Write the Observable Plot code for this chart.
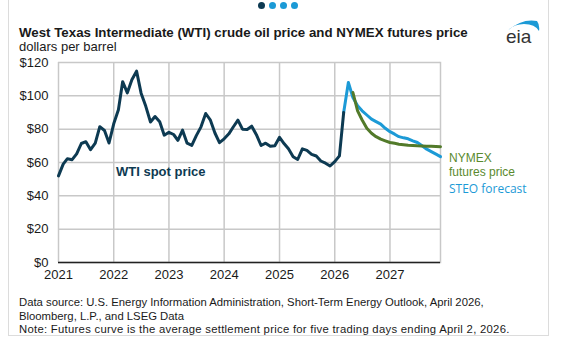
<!DOCTYPE html>
<html><head><meta charset="utf-8">
<script src="https://cdn.jsdelivr.net/npm/d3@7"></script>
<script src="https://cdn.jsdelivr.net/npm/@observablehq/plot@0.6"></script>
<style>
body{margin:0;background:#fff;width:562px;height:362px;overflow:hidden;position:relative;font-family:"Liberation Sans",Arial,sans-serif;color:#1a1a1a;}
.abs{position:absolute;white-space:nowrap;}
.card{position:absolute;left:8px;top:-2px;width:541px;height:338px;border:1px solid #dcdcdc;box-sizing:border-box;}
.dot{position:absolute;top:2px;width:7px;height:7px;border-radius:50%;background:#1c9ad6;}
#chart{position:absolute;left:0;top:0;}
</style>
</head><body>
<div class="card"></div>
<div class="dot" style="left:258px;background:#0d3a52"></div>
<div class="dot" style="left:269px"></div>
<div class="dot" style="left:280px"></div>
<div class="dot" style="left:291px"></div>
<div class="abs" style="left:19px;top:26px;font-size:13.3px;font-weight:bold;line-height:14px;">West Texas Intermediate (WTI) crude oil price and NYMEX futures price</div>
<div class="abs" style="left:19px;top:40px;font-size:13px;line-height:14px;">dollars per barrel</div>
<svg class="abs" style="left:502px;top:14px" width="40" height="34" viewBox="0 0 40 34">
  <path d="M5 17 Q20 4 35 7 Q38 11 37 17 Q33 10 22 10 Q12 10 5 17 Z" fill="#1c9ad6"/>
  <text x="4" y="29" font-family="Liberation Sans, Arial" font-size="19" fill="#333">eia</text>
</svg>
<div id="chart"></div>
<div class="abs" style="left:116px;top:164px;font-size:13px;font-weight:bold;color:#0d3a52;line-height:16px;">WTI spot price</div>
<div class="abs" style="left:449px;top:151px;font-size:12px;color:#5a8a2e;line-height:14px;">NYMEX<br>futures price</div>
<div class="abs" style="left:449px;top:181px;font-family:'Open Sans';font-size:12px;color:#1c9ad6;line-height:16px;">STEO forecast</div>
<div class="abs" style="left:19px;top:296px;font-size:11.3px;line-height:13.5px;">Data source: U.S. Energy Information Administration, Short-Term Energy Outlook, April 2026,<br>Bloomberg, L.P., and LSEG Data</div>
<div class="abs" style="left:19px;top:323px;font-size:11.3px;line-height:13.5px;letter-spacing:0.28px;">Note: Futures curve is the average settlement price for five trading days ending April 2, 2026.</div>
<script>
// WTI spot price, monthly, Jan 2021 - Mar 2026
const wtiStart = "2021-01";
const wtiValues = [
  52.0, 59.0, 62.3, 61.7, 65.2, 71.4, 72.5, 67.7, 71.6, 81.5, 79.2, 71.7,
  83.2, 91.6, 108.5, 101.8, 109.6, 114.8, 101.6, 93.7, 84.3, 87.6, 84.4, 76.4,
  78.1, 76.8, 73.3, 79.4, 71.6, 70.3, 76.1, 81.4, 89.4, 85.6, 77.7, 71.9,
  74.2, 77.2, 81.3, 85.4, 80.0, 79.8, 81.8, 76.7, 70.2, 71.6, 69.7, 70.1,
  75.1, 71.2, 68.2, 63.5, 61.8, 68.2, 67.3, 64.9, 63.9, 60.9, 59.6, 57.9,
  60.5, 64.0, 90.0
];
// STEO forecast, monthly, Mar 2026 - Dec 2027
const steoStart = "2026-03";
const steoValues = [
  90.0, 108.0, 99.0, 94.0, 91.0, 88.5, 86.0, 84.5, 83.0, 80.5,
  78.5, 77.0, 75.5, 74.8, 74.2, 73.0, 72.0, 70.0, 68.0, 66.5, 65.0, 63.5
];
// NYMEX futures price, monthly, May 2026 - Dec 2027
const nymexStart = "2026-05";
const nymexValues = [
  102.0, 91.0, 85.5, 80.5, 77.5, 75.5, 74.0, 73.0,
  72.0, 71.5, 71.0, 70.7, 70.4, 70.2, 70.0, 69.9, 69.8, 69.7, 69.6, 69.5
];
const xDomain = ["2021-01", "2027-12"];
const yearTicks = [2021, 2022, 2023, 2024, 2025, 2026, 2027];
const yTicks = [0, 20, 40, 60, 80, 100, 120];

const parseMonth = s => { const [y, m] = s.split("-").map(Number); return new Date(Date.UTC(y, m - 1, 1)); };
const series = (start, vals) => { const d0 = parseMonth(start); return vals.map((v, i) => ({date: new Date(Date.UTC(d0.getUTCFullYear(), d0.getUTCMonth() + i, 1)), value: v})); };
const wti = series(wtiStart, wtiValues);
const steo = series(steoStart, steoValues);
const nymex = series(nymexStart, nymexValues);
const ticks = yearTicks.map(y => new Date(Date.UTC(y, 0, 1)));

const chart = Plot.plot({
  width: 562, height: 290,
  marginLeft: 58, marginRight: 122, marginTop: 62, marginBottom: 28,
  style: {fontSize: "13px", fontFamily: "Liberation Sans, Arial, sans-serif", color: "#1a1a1a", background: "transparent", overflow: "visible"},
  x: {type: "utc", domain: xDomain.map(parseMonth), ticks: ticks, tickFormat: d => String(d.getUTCFullYear()), tickSize: 0, tickPadding: 7, label: null},
  y: {domain: [0, 120], ticks: yTicks, tickFormat: d => "$" + d, tickSize: 0, tickPadding: 10, label: null},
  marks: [
    Plot.gridX(ticks, {stroke: "#c8c8c8", strokeOpacity: 1, strokeWidth: 1.5}),
    Plot.gridY(yTicks, {stroke: "#c8c8c8", strokeOpacity: 1, strokeWidth: 1.5}),
    Plot.frame({anchor: "right", stroke: "#c8c8c8", strokeWidth: 1.5}),
    Plot.ruleY([0], {stroke: "#222", strokeWidth: 1.5}),
    Plot.lineY(steo, {x: "date", y: "value", stroke: "#1c9ad6", strokeWidth: 3}),
    Plot.lineY(nymex, {x: "date", y: "value", stroke: "#527a2a", strokeWidth: 3}),
    Plot.lineY(wti, {x: "date", y: "value", stroke: "#0d3a52", strokeWidth: 3})
  ]
});
document.getElementById("chart").appendChild(chart);
</script>
</body></html>
